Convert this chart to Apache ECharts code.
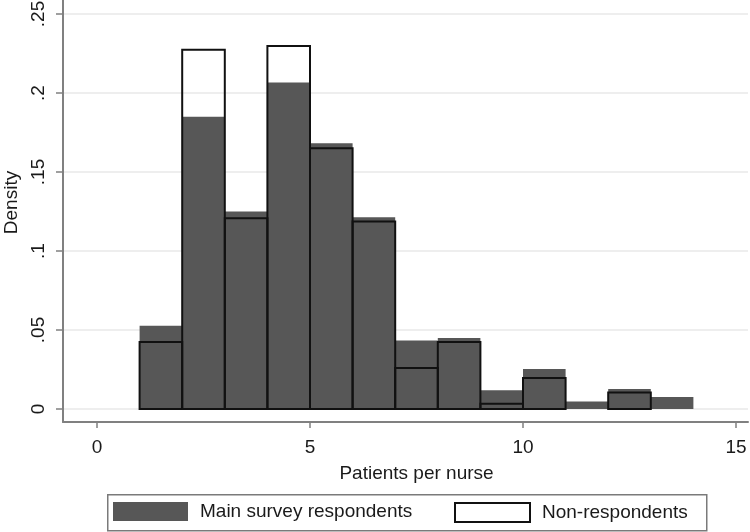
<!DOCTYPE html>
<html>
<head>
<meta charset="utf-8">
<script src="https://cdn.jsdelivr.net/npm/echarts@6/dist/echarts.min.js"></script>
<style>
html,body{margin:0;padding:0;background:#fff;}
#chart{width:750px;height:532px;}
</style>
</head>
<body>
<div id="chart"></div>
<script>
// Histogram bins (patients per nurse)
const binStart = [1, 2, 3, 4, 5, 6, 7, 8, 9, 10, 11, 12, 13];
const binEnd   = [2, 3, 4, 5, 6, 7, 8, 9, 10, 11, 12, 13, 14];
// Density values
const mainDensity    = [0.0527, 0.185, 0.125, 0.2066, 0.1682, 0.1214, 0.0434, 0.0449, 0.0118, 0.0253, 0.0048, 0.0127, 0.0076];
const nonRespDensity = [0.0424, 0.2273, 0.1208, 0.2298, 0.1651, 0.1187, 0.0259, 0.0424, 0.0034, 0.0196, null, 0.0105, null];
// Axis ticks
const xTicks = [0, 5, 10, 15];
const yTickLabels = ['0', '.05', '.1', '.15', '.2', '.25'];
const seriesNames = ['Main survey respondents', 'Non-respondents'];

const FONT = '"Liberation Sans", Arial, sans-serif';
const GRAY = '#575757';

function toData(vals) {
  const out = [];
  vals.forEach((v, i) => { if (v !== null) out.push([binStart[i], binEnd[i], v]); });
  return out;
}

function makeRender(style) {
  return function (params, api) {
    const p0 = api.coord([api.value(0), api.value(2)]);
    const p1 = api.coord([api.value(1), 0]);
    return {
      type: 'rect',
      shape: { x: p0[0], y: p0[1], width: p1[0] - p0[0], height: p1[1] - p0[1] },
      style: style
    };
  };
}

const chart = echarts.init(document.getElementById('chart'), null, { renderer: 'canvas' });

const option = {
  backgroundColor: '#fff',
  animation: false,
  textStyle: { fontFamily: FONT },
  grid: [
    { left: 63, right: 2, top: 0, bottom: 110, outerBoundsMode: 'none', containLabel: false },   // frame
    { left: 63, right: 2, top: 14, bottom: 123, outerBoundsMode: 'none', containLabel: false },  // gridlines
    { left: 97, right: 14, top: 14, bottom: 123, outerBoundsMode: 'none', containLabel: false }  // data
  ],
  xAxis: [
    { gridIndex: 0, type: 'value', min: 0, max: 1,
      axisLine: { show: true, onZero: false, lineStyle: { color: '#808080', width: 2 } },
      axisTick: { show: false }, axisLabel: { show: false }, splitLine: { show: false } },
    { gridIndex: 1, type: 'value', min: 0, max: 1, show: false },
    { gridIndex: 2, type: 'value', min: 0, max: 15, interval: 5, offset: 13,
      axisLine: { show: false, onZero: false },
      axisTick: { show: true, length: 6, lineStyle: { color: '#808080', width: 1.5 } },
      axisLabel: { show: true, margin: 16, fontSize: 19, color: '#1a1a1a', fontFamily: FONT },
      splitLine: { show: false },
      name: 'Patients per nurse', nameLocation: 'middle', nameGap: 42,
      nameTextStyle: { fontSize: 19, color: '#1a1a1a', fontFamily: FONT } }
  ],
  yAxis: [
    { gridIndex: 0, type: 'value', min: 0, max: 1,
      axisLine: { show: true, onZero: false, lineStyle: { color: '#808080', width: 2 } },
      axisTick: { show: false }, axisLabel: { show: false }, splitLine: { show: false } },
    { gridIndex: 1, type: 'value', min: 0, max: 0.25, interval: 0.05,
      axisLine: { show: false }, axisTick: { show: false }, axisLabel: { show: false },
      splitLine: { show: true, lineStyle: { color: '#e8e8e8', width: 1.5 } } },
    { gridIndex: 2, type: 'value', min: 0, max: 0.25, interval: 0.05, offset: 34,
      axisLine: { show: false, onZero: false },
      axisTick: { show: true, length: 7, lineStyle: { color: '#808080', width: 1.5 } },
      axisLabel: { show: true, rotate: 90, margin: 15, fontSize: 19, color: '#1a1a1a', fontFamily: FONT,
        formatter: function (v) { return yTickLabels[Math.round(v / 0.05)]; } },
      splitLine: { show: false },
      name: 'Density', nameLocation: 'middle', nameGap: 42, nameRotate: 90,
      nameTextStyle: { fontSize: 19, color: '#1a1a1a', fontFamily: FONT, padding: [0, 0, 0, 18] } }
  ],
  legend: [
    { left: 113, top: 502, padding: 0, itemWidth: 75, itemHeight: 19, selectedMode: false,
      textStyle: { fontSize: 19, color: '#1a1a1a', fontFamily: FONT, padding: [0, 0, 0, 7] },
      data: [{ name: seriesNames[0], icon: 'rect', itemStyle: { color: GRAY, borderWidth: 0 } }] },
    { left: 454, top: 502, padding: 0, itemWidth: 75, itemHeight: 19, selectedMode: false,
      textStyle: { fontSize: 19, color: '#1a1a1a', fontFamily: FONT, padding: [0, 0, 0, 7] },
      data: [{ name: seriesNames[1], icon: 'rect', itemStyle: { color: '#fff', borderColor: '#111', borderWidth: 2 } }] }
  ],
  graphic: [
    { type: 'rect', left: 107, top: 494, z: -1,
      shape: { width: 599, height: 36 },
      style: { fill: '#fff', stroke: '#7a7a7a', lineWidth: 1.5 } }
  ],
  series: [
    { name: seriesNames[0], type: 'custom', xAxisIndex: 2, yAxisIndex: 2, z: 2,
      itemStyle: { color: GRAY },
      renderItem: makeRender({ fill: GRAY, stroke: null }),
      data: toData(mainDensity) },
    { name: seriesNames[1], type: 'custom', xAxisIndex: 2, yAxisIndex: 2, z: 3,
      itemStyle: { color: '#fff', borderColor: '#111' },
      renderItem: makeRender({ fill: null, stroke: '#111', lineWidth: 2 }),
      data: toData(nonRespDensity) }
  ]
};
chart.setOption(option);
</script>
</body>
</html>
